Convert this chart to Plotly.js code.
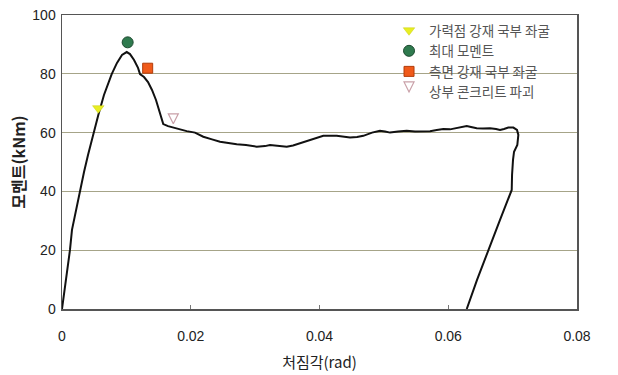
<!DOCTYPE html>
<html>
<head>
<meta charset="utf-8">
<script src="https://cdn.plot.ly/plotly-3.0.1.min.js"></script>
<style>html,body{margin:0;padding:0;background:#fff;}#chart{width:618px;height:375px;}</style>
</head>
<body>
<div id="chart"></div>
<script>
// Moment–rotation curve (rotation in rad, moment in kNm)
const rotation = [0, 0.00054, 0.00124, 0.00155, 0.00217, 0.0028, 0.00342, 0.00404, 0.00489, 0.00564,
  0.00652, 0.00772, 0.00854, 0.00932, 0.01005, 0.01056, 0.01119, 0.01181, 0.01212, 0.01274,
  0.01336, 0.01398, 0.0146, 0.01522, 0.01573, 0.01647, 0.01729, 0.01802, 0.01937, 0.02066,
  0.02195, 0.0233, 0.02455, 0.02714, 0.02858, 0.03025, 0.03154, 0.03231, 0.03356, 0.03491,
  0.03589, 0.03697, 0.03801, 0.0393, 0.04059, 0.04267, 0.04365, 0.04474, 0.04583, 0.04681,
  0.04816, 0.0494, 0.05018, 0.05096, 0.0522, 0.05355, 0.05484, 0.05613, 0.05717, 0.05821,
  0.05924, 0.06028, 0.06132, 0.06214, 0.06287, 0.06354, 0.06442, 0.0654, 0.06649, 0.06742,
  0.06804, 0.06866, 0.06933, 0.07011, 0.07068, 0.07089, 0.07073, 0.07022, 0.07006, 0.06991,
  0.06986, 0.06804, 0.06623, 0.06447, 0.06287];
const moment = [0, 8.2, 20.1, 26.9, 33.7, 39.9, 46.6, 52.4, 59.9, 66.0,
  72.8, 79.9, 83.7, 86.4, 87.4, 86.7, 84.7, 82.0, 79.9, 78.9,
  77.2, 74.5, 71.1, 67.0, 62.9, 62.2, 61.7, 61.1, 60.5, 60.0,
  58.6, 57.7, 56.9, 56.0, 55.8, 55.2, 55.4, 55.8, 55.4, 55.2,
  55.6, 56.4, 57.1, 58.0, 58.9, 58.9, 58.5, 58.3, 58.5, 58.9,
  60.0, 60.6, 60.4, 60.0, 60.4, 60.6, 60.4, 60.5, 60.5, 60.9,
  61.2, 61.1, 61.5, 61.9, 62.2, 61.9, 61.5, 61.4, 61.5, 61.2,
  60.9, 61.2, 61.7, 61.7, 60.9, 59.2, 55.8, 53.5, 50.7, 45.6,
  40.5, 30.3, 20.1, 9.9, 0];

// Event markers
const eventNames = ['가력점 강재 국부 좌굴', '최대 모멘트', '측면 강재 국부 좌굴', '상부 콘크리트 파괴'];
const eventRotation = [0.00564, 0.0102, 0.01331, 0.01729];
const eventMoment = [68.3, 90.7, 81.9, 63.0];

const xTicks = [0, 0.02, 0.04, 0.06, 0.08];
const xTickText = ['0', '0.02', '0.04', '0.06', '0.08'];
const yTicks = [0, 20, 40, 60, 80, 100];

const eventStyles = [
  {symbol: 'triangle-down', color: '#e8ee22', line: {color: '#c9cf10', width: 0.5}, size: 10},
  {symbol: 'circle', color: '#2f7a4e', line: {color: '#1d4a30', width: 1}, size: 11},
  {symbol: 'square', color: '#f05a1a', line: {color: '#b23c0a', width: 1}, size: 10},
  {symbol: 'arrow-down-open', color: '#c9a0a8', line: {color: '#b08890', width: 1.2}, size: 10}
];

const traces = [{
  x: rotation, y: moment, mode: 'lines', type: 'scatter',
  line: {color: '#111', width: 2},
  showlegend: false, hoverinfo: 'skip'
}];
eventNames.forEach((n, i) => {
  const s = eventStyles[i];
  traces.push({
    x: [eventRotation[i]], y: [eventMoment[i]], mode: 'markers', type: 'scatter', name: n,
    marker: {symbol: s.symbol, color: s.color, size: s.size, line: Object.assign({}, s.line)}
  });
});

const font = 'Liberation Sans, Arial, sans-serif';
const kfont = 'Noto Sans CJK KR, sans-serif';
const layout = {
  width: 618, height: 375,
  margin: {l: 62, r: 41, t: 15, b: 66},
  paper_bgcolor: '#fff', plot_bgcolor: '#fff',
  font: {family: font, color: '#222', size: 14},
  xaxis: {
    range: [0, 0.08], tickvals: xTicks, ticktext: xTickText,
    showgrid: false, zeroline: false,
    showline: true, mirror: true, linecolor: '#555', linewidth: 1.5,
    ticks: 'inside', ticklen: 4, tickcolor: '#777',
    ticklabelstandoff: 14,
    tickfont: {family: font, size: 14, color: '#222'},
    title: {text: '처짐각(rad)', font: {family: kfont, size: 15, color: '#222'}, standoff: 14}
  },
  yaxis: {
    range: [0, 100], tickvals: yTicks,
    showgrid: true, gridcolor: '#a6a488', gridwidth: 1,
    zeroline: false,
    showline: true, mirror: true, linecolor: '#555', linewidth: 1.5,
    ticks: '', tickfont: {family: font, size: 14, color: '#222'},
    ticklabelstandoff: 2,
    title: {text: '모멘트(kNm)', font: {family: kfont, size: 16, color: '#222', weight: 'bold'}, standoff: 2}
  },
  legend: {
    x: 0.635, xanchor: 'left', y: 1.0, yanchor: 'top',
    bgcolor: 'rgba(0,0,0,0)', borderwidth: 0,
    font: {family: kfont, size: 13.5, color: '#555'},
    itemwidth: 30, tracegroupgap: 0
  }
};

Plotly.newPlot('chart', traces, layout, {displayModeBar: false, staticPlot: true});
</script>
</body>
</html>
